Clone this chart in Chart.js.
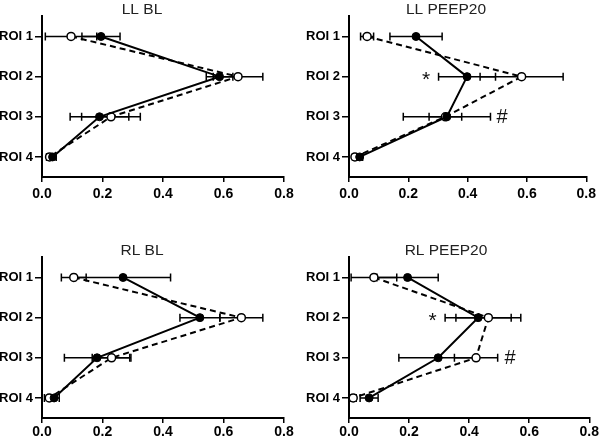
<!DOCTYPE html>
<html>
<head>
<meta charset="utf-8">
<script src="https://cdn.jsdelivr.net/npm/chart.js@4.4.1/dist/chart.umd.min.js"></script>
<style>
  body { margin: 0; background: #fff; }
  #wrap { position: relative; width: 600px; height: 442px; }
  canvas { position: absolute; }
</style>
</head>
<body>
<div id="wrap">
  <canvas id="llbl" width="300" height="221" style="left:0;top:0"></canvas>
  <canvas id="llpeep" width="300" height="221" style="left:300px;top:0"></canvas>
  <canvas id="rlbl" width="300" height="221" style="left:0;top:221px"></canvas>
  <canvas id="rlpeep" width="300" height="221" style="left:300px;top:221px"></canvas>
</div>
<script>
const roiLabels = ['ROI 1', 'ROI 2', 'ROI 3', 'ROI 4'];

// filled circles (solid line) and open circles (dashed line), mean and SD
const llBlSolid = [0.195, 0.587, 0.19, 0.035];
const llBlSolidSd = [0.063, 0.044, 0.097, 0.012];
const llBlOpen = [0.096, 0.648, 0.228, 0.025];
const llBlOpenSd = [0.085, 0.082, 0.097, 0.01];

const llPeepSolid = [0.226, 0.398, 0.33, 0.036];
const llPeepSolidSd = [0.088, 0.096, 0.147, 0.01];
const llPeepOpen = [0.061, 0.582, 0.325, 0.02];
const llPeepOpenSd = [0.022, 0.14, 0.055, 0.008];

const rlBlSolid = [0.268, 0.522, 0.182, 0.04];
const rlBlSolidSd = [0.157, 0.066, 0.108, 0.017];
const rlBlOpen = [0.105, 0.659, 0.23, 0.024];
const rlBlOpenSd = [0.041, 0.071, 0.064, 0.016];

const rlPeepSolid = [0.195, 0.43, 0.297, 0.067];
const rlPeepSolidSd = [0.102, 0.11, 0.131, 0.03];
const rlPeepOpen = [0.083, 0.464, 0.423, 0.014];
const rlPeepOpenSd = [0.076, 0.108, 0.072, 0.01];

// significance marks: [symbol, x value, category]
const llPeepMarks = [['*', 0.26, 'ROI 2'], ['#', 0.516, 'ROI 3']];
const rlPeepMarks = [['*', 0.278, 'ROI 2'], ['#', 0.536, 'ROI 3']];

const FONT = "'Liberation Sans', Arial, sans-serif";

const errorBars = {
  id: 'errorBars',
  beforeDatasetsDraw(chart) {
    const ctx = chart.ctx;
    const xs = chart.scales.x;
    chart.data.datasets.forEach((ds, i) => {
      const meta = chart.getDatasetMeta(i);
      meta.data.forEach((pt, j) => {
        const v = ds.data[j], e = ds.sd[j];
        const x1 = xs.getPixelForValue(v - e);
        const x2 = xs.getPixelForValue(v + e);
        const y = pt.y;
        ctx.save();
        ctx.strokeStyle = '#000';
        ctx.lineWidth = 1.5;
        ctx.beginPath();
        ctx.moveTo(x1, y); ctx.lineTo(x2, y);
        ctx.moveTo(x1, y - 4); ctx.lineTo(x1, y + 4);
        ctx.moveTo(x2, y - 4); ctx.lineTo(x2, y + 4);
        ctx.stroke();
        ctx.restore();
      });
    });
  }
};

const sigMarks = {
  id: 'sigMarks',
  afterDraw(chart, args, opts) {
    if (!opts.marks) return;
    const ctx = chart.ctx;
    opts.marks.forEach(m => {
      const x = chart.scales.x.getPixelForValue(m[1]);
      const y = chart.scales.y.getPixelForValue(m[2]);
      ctx.save();
      ctx.fillStyle = '#111';
      ctx.textAlign = 'center';
      ctx.textBaseline = 'middle';
      if (m[0] == '*') {
        ctx.font = '21px ' + FONT;
        ctx.fillText(m[0], x, y + 4);
      } else {
        ctx.font = '20px ' + FONT;
        ctx.fillText(m[0], x, y + 1);
      }
      ctx.restore();
    });
  }
};

function makePanel(id, title, solid, solidSd, open, openSd, marks, top) {
  const right = id.indexOf('peep') > 0;
  return new Chart(document.getElementById(id), {
    type: 'line',
    data: {
      labels: roiLabels,
      datasets: [{
        data: solid,
        sd: solidSd,
        borderColor: '#000',
        borderWidth: 2,
        pointRadius: 4,
        pointBackgroundColor: '#000',
        pointBorderColor: '#000',
        pointBorderWidth: 1
      }, {
        data: open,
        sd: openSd,
        borderColor: '#000',
        borderWidth: 2,
        borderDash: [6, 4],
        pointRadius: 4,
        pointBackgroundColor: '#fff',
        pointBorderColor: '#000',
        pointBorderWidth: 1.5
      }]
    },
    options: {
      indexAxis: 'y',
      responsive: false,
      animation: false,
      layout: { padding: { right: right ? 8 : 16 } },
      plugins: {
        legend: { display: false },
        tooltip: { enabled: false },
        title: {
          display: true,
          text: title,
          color: '#222',
          font: { family: FONT, size: 15.5, weight: 'normal', lineHeight: 0.8 },
          padding: { top: top ? 4 : 24, bottom: 0 }
        },
        sigMarks: { marks: marks }
      },
      scales: {
        x: {
          type: 'linear',
          min: 0,
          max: 0.8,
          afterFit: s => { s.height = top ? 44 : 24; },
          ticks: {
            stepSize: 0.2,
            color: '#000',
            padding: top ? 4 : 1,
            font: { family: FONT, size: 14, weight: 'bold' },
            callback: v => v.toFixed(1)
          },
          grid: { drawOnChartArea: false, drawTicks: true, tickLength: 5, color: '#000', lineWidth: 1.5 },
          border: { color: '#000', width: 2 }
        },
        y: {
          type: 'category',
          offset: true,
          afterFit: s => { s.width = right ? 49 : 42; },
          ticks: {
            color: '#000',
            padding: 2,
            font: { family: FONT, size: 13, weight: 'bold' }
          },
          grid: { drawOnChartArea: false, drawTicks: true, tickLength: 7, color: '#000', lineWidth: 1.5, offset: false },
          border: { color: '#000', width: 2 }
        }
      }
    },
    plugins: [errorBars, sigMarks]
  });
}

makePanel('llbl', 'LL BL', llBlSolid, llBlSolidSd, llBlOpen, llBlOpenSd, null, true);
makePanel('llpeep', 'LL PEEP20', llPeepSolid, llPeepSolidSd, llPeepOpen, llPeepOpenSd, llPeepMarks, true);
makePanel('rlbl', 'RL BL', rlBlSolid, rlBlSolidSd, rlBlOpen, rlBlOpenSd, null, false);
makePanel('rlpeep', 'RL PEEP20', rlPeepSolid, rlPeepSolidSd, rlPeepOpen, rlPeepOpenSd, rlPeepMarks, false);
</script>
</body>
</html>
